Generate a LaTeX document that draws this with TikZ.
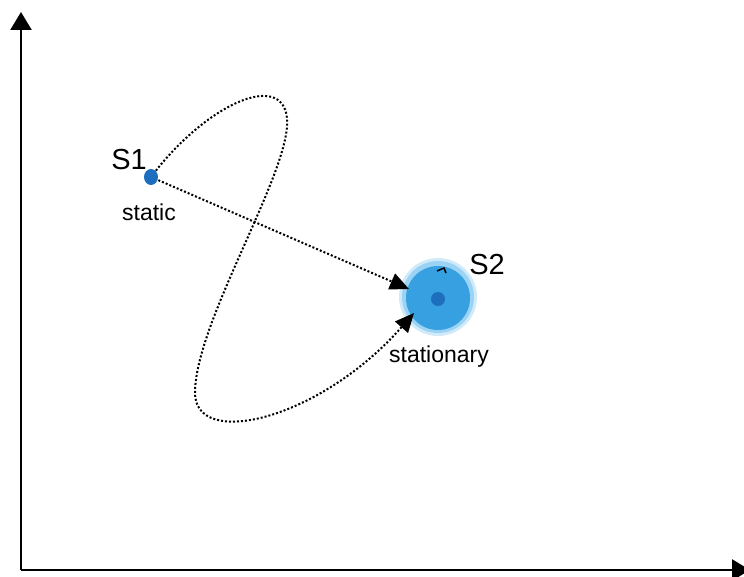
\documentclass[tikz,border=0pt]{standalone}
\usepackage{fontspec}
\setmainfont{Liberation Sans}
\usetikzlibrary{arrows.meta}

\definecolor{dotblue}{RGB}{30,110,190}
\definecolor{haloblue}{RGB}{120,195,240}
\definecolor{ballblue}{RGB}{55,160,225}

\tikzset{
    axis/.style={line width=2.4pt, -{Triangle[width=21pt,length=18pt]}},
    path/.style={line width=2pt, dash pattern=on 2pt off 2pt, -{Triangle[width=17pt,length=19pt]}},
    big/.style={font=\fontsize{29}{29}\selectfont},
    small/.style={font=\fontsize{23}{23}\selectfont}
}

\begin{document}
\begin{tikzpicture}[x=1pt,y=-1pt]
    \useasboundingbox (0,0) rectangle (744,577);

    % axes
    \coordinate (O) at (21,570);
    \coordinate (Y) at (21,12);
    \coordinate (X) at (750,570);
    \draw[axis] (O) -- (Y);
    \draw[axis] (O) -- (X);

    \coordinate (A) at (151,177);
    \coordinate (B) at (409,289);
    \coordinate (C) at (414,313);
    \coordinate (T) at (287,118);
    \coordinate (L) at (195,392);

    % S2 ball
    \fill[haloblue,opacity=0.35] (438,297) circle (39);
    \fill[haloblue,opacity=0.6] (438,297) circle (36);
    \fill[ballblue] (438,298) circle (32);
    \fill[dotblue] (438,299) circle (7);
    \draw[line width=1.5pt] (437,271) -- (444,268) -- (446,273);

    % dotted paths
    \draw[path] (A) -- (B);
    \draw[path] (A) .. controls (205,105) and (282,70) .. (T)
        .. controls (292,170) and (196,320) .. (L)
        .. controls (194,450) and (320,420) .. (C);

    % S1 dot
    \fill[dotblue] (151,177) ellipse (7 and 8);

    \node[big] (s1) at (129,160) {S1};
    \node[small] (s1txt) at (149,212) {static};
    \node[big] (s2) at (487,265) {S2};
    \node[small] (s2txt) at (439,357) {stationary};

\end{tikzpicture}
\end{document}
